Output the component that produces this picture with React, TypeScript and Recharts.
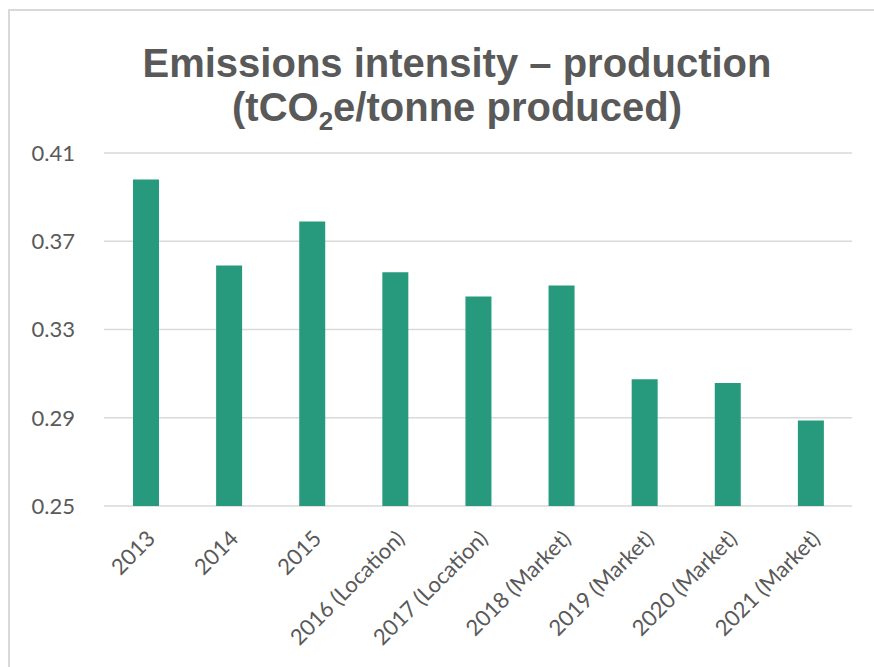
import { Bar, BarChart, CartesianGrid, XAxis, YAxis } from 'recharts'

const categories = [
  '2013',
  '2014',
  '2015',
  '2016 (Location)',
  '2017 (Location)',
  '2018 (Market)',
  '2019 (Market)',
  '2020 (Market)',
  '2021 (Market)',
]
const intensity = [0.398, 0.359, 0.379, 0.356, 0.345, 0.350, 0.3075, 0.3057, 0.2888]
const yTicks = [0.25, 0.29, 0.33, 0.37, 0.41]

const data = categories.map((name, i) => ({ name, value: intensity[i] }))

const textColor = '#595959'
const gridColor = '#d9d9d9'

export default function App() {
  return (
    <div
      style={{
        position: 'fixed',
        left: 0,
        top: 0,
        width: 874,
        height: 667,
        background: '#fff',
        overflow: 'hidden',
      }}
    >
      {/* chart frame, only top and left edges fall inside the view */}
      <div
        style={{
          position: 'absolute',
          left: 8,
          top: 9,
          width: 1200,
          height: 1000,
          borderTop: `2px solid ${gridColor}`,
          borderLeft: `2px solid ${gridColor}`,
        }}
      />
      <div
        style={{
          position: 'absolute',
          left: 0,
          top: 41,
          width: 914,
          textAlign: 'center',
          fontFamily: '"Liberation Sans", Arial, sans-serif',
          fontWeight: 'bold',
          fontSize: 40,
          lineHeight: '44px',
          color: textColor,
        }}
      >
        Emissions intensity – production
        <br />
        (tCO<sub style={{ fontSize: '0.65em', lineHeight: 0 }}>2</sub>e/tonne produced)
      </div>
      <div style={{ position: 'absolute', left: 0, top: 0 }}>
        <BarChart
          width={874}
          height={667}
          data={data}
          margin={{ top: 153, right: 22, bottom: 0, left: 0 }}
          style={{ fontFamily: 'Lato, sans-serif' }}
        >
          <CartesianGrid vertical={false} stroke={gridColor} strokeWidth={1.5} />
          <XAxis
            dataKey='name'
            interval={0}
            angle={-45}
            textAnchor='end'
            height={161}
            tickLine={false}
            axisLine={false}
            tickMargin={17}
            tick={{ fill: textColor, fontSize: 22 }}
          />
          <YAxis
            type='number'
            domain={[0.25, 0.41]}
            ticks={yTicks}
            width={104}
            tickLine={false}
            axisLine={false}
            tickMargin={23}
            tickFormatter={(v: number) => v.toFixed(2)}
            tick={{ fill: textColor, fontSize: 22 }}
          />
          <Bar dataKey='value' fill='#279a7e' barSize={26} isAnimationActive={false} />
        </BarChart>
      </div>
    </div>
  )
}
